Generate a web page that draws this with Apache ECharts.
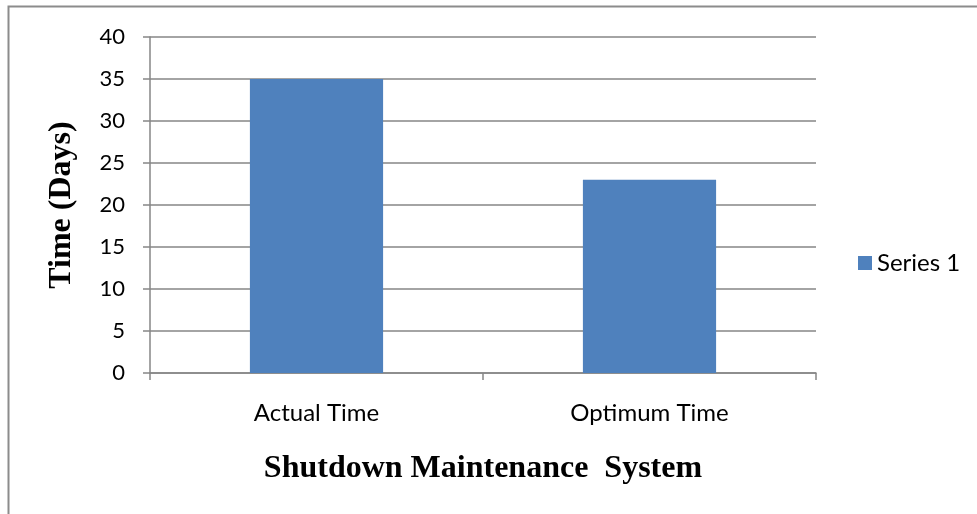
<!DOCTYPE html>
<html>
<head>
<meta charset="utf-8">
<script src="https://cdn.jsdelivr.net/npm/echarts@6/dist/echarts.min.js"></script>
<style>
  html, body { margin: 0; padding: 0; background: #fff; }
  #chart { width: 977px; height: 514px; }
</style>
</head>
<body>
<div id="chart"></div>
<script>
// Shutdown maintenance durations
const categories = ['Actual Time', 'Optimum Time'];
const seriesName = 'Series 1';
const timeDays = [35, 23];
const yTicks = { min: 0, max: 40, interval: 5 };

const gridColor = '#868686';
const chart = echarts.init(document.getElementById('chart'));

chart.setOption({
  backgroundColor: '#ffffff',
  animation: false,
  graphic: [{
    type: 'rect',
    shape: { x: 8.5, y: 6.5, width: 1000, height: 600 },
    style: { fill: 'none', stroke: '#8c8c8c', lineWidth: 2 },
    silent: true
  }],
  legend: {
    data: [seriesName],
    left: 858,
    top: 251,
    padding: 0,
    icon: 'rect',
    itemWidth: 14,
    itemHeight: 14,
    itemGap: 8,
    textStyle: { fontFamily: 'Lato', fontSize: 24, color: '#000' }
  },
  grid: { left: 150, right: 161, top: 37, bottom: 141 },
  xAxis: {
    type: 'category',
    data: categories,
    name: 'Shutdown Maintenance  System',
    nameLocation: 'middle',
    nameGap: 80,
    nameTextStyle: { fontFamily: 'Liberation Serif', fontWeight: 'bold', fontSize: 32, color: '#000' },
    axisLine: { lineStyle: { color: gridColor, width: 1.5 } },
    axisTick: { show: true, alignWithLabel: false, length: 7, lineStyle: { color: gridColor, width: 1.5 } },
    axisLabel: { margin: 28, fontFamily: 'Lato', fontSize: 24, color: '#000' }
  },
  yAxis: {
    type: 'value',
    min: yTicks.min,
    max: yTicks.max,
    interval: yTicks.interval,
    name: 'Time (Days)',
    nameLocation: 'middle',
    nameRotate: 90,
    nameGap: 72,
    nameTextStyle: { fontFamily: 'Liberation Serif', fontWeight: 'bold', fontSize: 32, color: '#000' },
    axisLine: { show: true, lineStyle: { color: gridColor, width: 1.5 } },
    axisTick: { show: true, length: 7, lineStyle: { color: gridColor, width: 1.5 } },
    axisLabel: { margin: 25, fontFamily: 'Lato', fontSize: 22, color: '#000' },
    splitLine: { lineStyle: { color: gridColor, width: 1.5 } }
  },
  series: [{
    name: seriesName,
    type: 'bar',
    data: timeDays,
    barWidth: '40%',
    itemStyle: { color: '#4F81BD' }
  }]
});
</script>
</body>
</html>
